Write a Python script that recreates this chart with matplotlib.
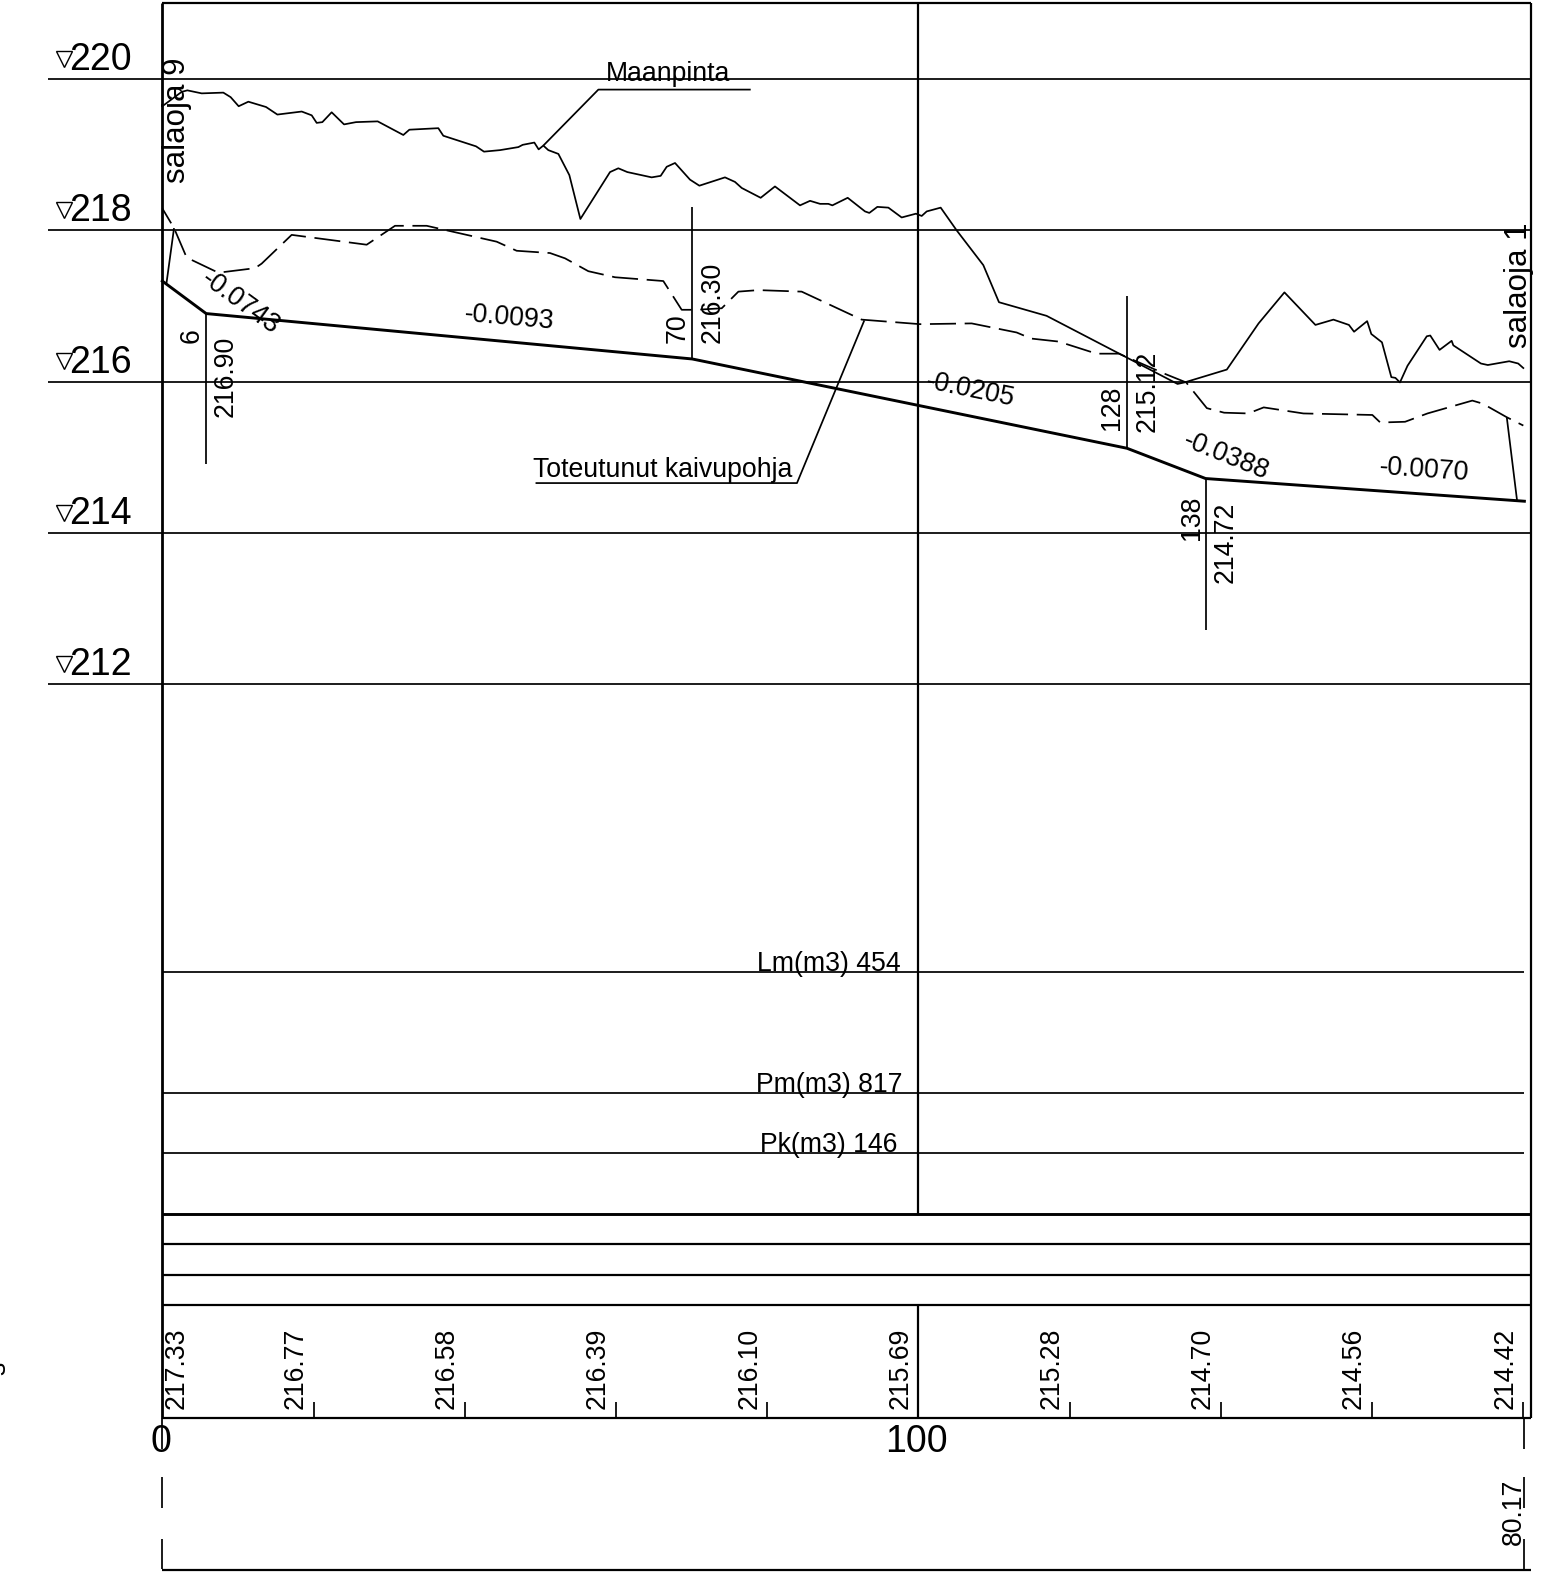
import matplotlib

matplotlib.use("Agg")
from matplotlib import pyplot as plt

plt.rcParams["font.family"] = ["Liberation Sans", "DejaVu Sans"]

ground_st = [
    0.0, 2.56, 3.31, 5.21, 8.07, 9.04, 10.10, 11.38, 13.72, 15.22, 18.44, 19.76,
    20.42, 21.17, 22.40, 24.04, 25.62, 28.49, 31.88, 32.68, 36.51, 37.17, 41.50,
    42.55, 44.67, 47.09, 47.67, 49.21, 49.78, 50.40, 51.06, 52.39, 53.84, 55.30,
    59.22, 60.32, 61.51, 64.73, 65.92, 66.72, 67.82, 69.80, 71.04, 74.43, 75.75,
    76.64, 79.15, 81.04, 84.35, 85.68, 87.00, 88.10, 88.63, 90.66, 92.95, 93.52,
    94.58, 96.04, 97.80, 99.69, 100.45, 101.11, 102.96, 105.07, 108.60, 110.67,
    116.97, 134.29, 135.21, 140.81, 145.01, 148.43, 152.53, 154.91, 156.96,
    157.64, 159.37, 159.92, 161.33, 162.57, 163.11, 163.71, 164.71, 167.26,
    167.72, 168.95, 170.55, 170.77, 174.42, 175.33, 178.16, 179.35, 180.03,
]
ground_el = [
    219.64, 219.83, 219.85, 219.81, 219.82, 219.76, 219.64, 219.70, 219.63, 219.53,
    219.57, 219.52, 219.42, 219.43, 219.56, 219.40, 219.43, 219.44, 219.26, 219.33,
    219.35, 219.25, 219.11, 219.04, 219.06, 219.10, 219.13, 219.16, 219.07, 219.12,
    219.06, 219.01, 218.73, 218.15, 218.77, 218.82, 218.77, 218.70, 218.72, 218.84,
    218.89, 218.67, 218.59, 218.70, 218.64, 218.56, 218.43, 218.58, 218.33, 218.39,
    218.35, 218.35, 218.33, 218.43, 218.25, 218.23, 218.31, 218.30, 218.17, 218.22,
    218.19, 218.25, 218.30, 218.00, 217.54, 217.05, 216.87, 215.97, 215.99, 216.16,
    216.77, 217.18, 216.75, 216.82, 216.75, 216.66, 216.80, 216.63, 216.52, 216.06,
    216.05, 215.99, 216.21, 216.60, 216.61, 216.42, 216.54, 216.48, 216.24, 216.22,
    216.27, 216.24, 216.18,
]
dashed_st = [
    0.0, 1.55, 3.22, 7.41, 12.26, 13.14, 17.11, 27.03, 30.78, 34.97, 44.23, 46.87,
    51.28, 53.27, 56.35, 59.88, 66.27, 68.70, 70.68, 74.00, 76.20, 78.84, 84.57,
    92.51, 100.23, 107.06, 113.01, 114.91, 118.56, 123.58, 126.54, 132.70, 135.43,
    138.17, 140.45, 143.64, 145.69, 150.94, 160.06, 161.11, 164.39, 167.35, 173.28,
    174.65, 177.84, 180.03,
]
dashed_el = [
    218.29, 218.03, 217.64, 217.44, 217.50, 217.56, 217.94, 217.81, 218.06, 218.06,
    217.85, 217.73, 217.70, 217.63, 217.46, 217.38, 217.33, 216.95, 216.95, 216.97,
    217.19, 217.21, 217.19, 216.82, 216.76, 216.77, 216.65, 216.57, 216.53, 216.37,
    216.37, 216.10, 215.99, 215.65, 215.59, 215.58, 215.66, 215.58, 215.56, 215.46,
    215.47, 215.58, 215.75, 215.71, 215.53, 215.42,
]
dig_st = [0.0, 5.8, 70.1, 127.6, 138.0, 180.17]
dig_el = [217.33, 216.90, 216.30, 215.12, 214.72, 214.42]

levels = [220, 218, 216, 214, 212]
volume_rows = [208.2, 206.6, 205.8]
volume_labels = ["Lm(m3) 454", "Pm(m3) 817", "Pk(m3) 146"]
table_rows = [205.0, 204.6, 204.2, 203.8, 202.3, 200.3]
tick_st = [20, 40, 60, 80, 120, 140, 160, 180]
elev_labels = [
    "217.33", "216.77", "216.58", "216.39", "216.10",
    "215.69", "215.28", "214.70", "214.56", "214.42",
]
elev_label_st = [2.8, 18.57, 38.57, 58.57, 78.57, 98.57, 118.57, 138.57, 158.57, 178.57]

# Change-of-grade callouts: (label x, label y) for station and for elevation
break_st = [5.8, 70.1, 127.6, 138.0]
break_top = [216.90, 218.31, 217.13, 214.72]
break_bottom = [214.91, 216.30, 215.12, 212.72]
station_labels = ["6", "70", "128", "138"]
station_x = [4.85, 69.14, 126.6, 137.1]
station_y = [216.51, 216.51, 215.36, 213.91]
break_labels = ["216.90", "216.30", "215.12", "214.72"]
break_x = [9.31, 73.68, 131.2, 141.6]
break_y = [215.53, 216.51, 215.34, 213.34]

slopes = ["-0.0743", "-0.0093", "-0.0205", "-0.0388", "-0.0070"]
slope_x = [10.28, 45.9, 106.93, 140.7, 166.9]
slope_y = [217.04, 216.84, 215.89, 215.01, 214.83]
slope_rot = [-36, -5, -11.6, -22, -4]

# Figure is a single axes mapped 1:1 on the sheet, 7.56 px/m and 75.67 px/m
f = plt.figure(figsize=(15.42, 15.77), dpi=100)
ax = f.add_axes([0, 0, 1, 1])
ax.set_xlim(-21.47, 182.50)
ax.set_ylim(200.203, 221.044)
ax.axis("off")

THIN = 1.25
FRAME = 1.6
THICK = 2.1
END = 181.0
LABEL = 19.2


def line(xs, ys, lw=THIN, **kw):
    ax.plot(xs, ys, color="k", lw=lw, solid_capstyle="butt", **kw)


def vtext(x, y, s, size=LABEL):
    ax.text(x, y, s, rotation=90, rotation_mode="anchor", ha="left", va="baseline", fontsize=size)


# Frame and section lines
line([0, END], [221.0, 221.0], FRAME)
line([0, 0], [221.0, 202.31], FRAME + 0.4)
line([END, END], [221.0, 202.31], FRAME)
line([100, 100], [221.0, 205.0], FRAME)
line([100, 100], [203.8, 202.3], FRAME)

for lev in levels:
    line([-15.06, END], [lev, lev], THIN)
    ax.plot([-13.05], [lev + 0.27], marker="v", ms=12, mfc="white", mec="k", mew=1.0, ls="none")
    ax.text(-4.0, lev + 0.12, str(lev), ha="right", va="baseline", fontsize=27)

for row, lab in zip(volume_rows, volume_labels):
    line([0, 180.17], [row, row], THIN)
    ax.text(88.2, row + 0.015, lab, ha="center", va="baseline", fontsize=LABEL)

for i, row in enumerate(table_rows):
    w = THICK if row == 205.0 else FRAME
    line([0, END], [row, row], w)

for st in tick_st:
    line([st, st], [202.31, 202.52], THIN)

for st, lab in zip(elev_label_st, elev_labels):
    vtext(st, 202.42, lab)

# Station axis at the bottom
for x in [0, 180.17]:
    line([x, x], [202.31, 201.9], THIN)
    line([x, x], [201.52, 201.11], THIN)
    line([x, x], [200.71, 200.31], THIN)
ax.text(-0.2, 201.86, "0", ha="center", va="baseline", fontsize=27)
ax.text(99.8, 201.86, "100", ha="center", va="baseline", fontsize=27)
vtext(179.7, 200.63, "80.17")
vtext(-20.8, 202.87, "s")

# Profile lines
ax.plot(ground_st, ground_el, color="k", lw=THIN)
ax.plot(dashed_st, dashed_el, color="k", lw=THIN, ls=(5, (15, 5)))
ax.plot(dig_st, dig_el, color="k", lw=THICK)

# End connectors
line([0.55, 1.55], [217.30, 218.03], THIN)
line([177.84, 179.2], [215.53, 214.43], THIN)

for st, top, bottom in zip(break_st, break_top, break_bottom):
    line([st, st], [bottom, top], THIN)
for x, y, s in zip(station_x, station_y, station_labels):
    vtext(x, y, s)
for x, y, s in zip(break_x, break_y, break_labels):
    vtext(x, y, s)

for x, y, s, rot in zip(slope_x, slope_y, slopes, slope_rot):
    ax.text(x, y, s, rotation=rot, rotation_mode="anchor", ha="center", va="center", fontsize=LABEL)

# Leaders
line([50.4, 57.68, 77.83], [219.12, 219.86, 219.86], THIN)
ax.text(66.94, 219.98, "Maanpinta", ha="center", va="baseline", fontsize=LABEL)
line([92.86, 83.95, 49.37], [216.81, 214.66, 214.66], THIN)
ax.text(49.07, 214.74, "Toteutunut kaivupohja", ha="left", va="baseline", fontsize=LABEL)

vtext(3.0, 218.62, "salaoja 9", 22.5)
vtext(180.45, 216.44, "salaoja 1", 22.5)

f.savefig("out.png", dpi=100)
